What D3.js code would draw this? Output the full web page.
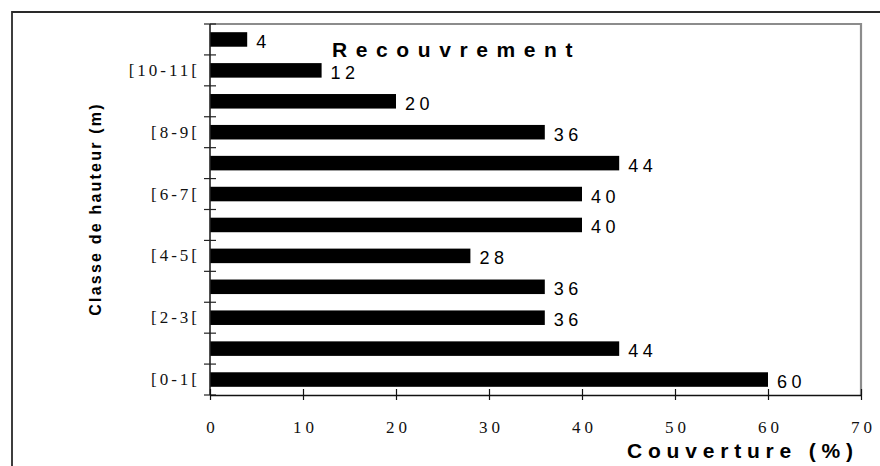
<!DOCTYPE html>
<html>
<head>
<meta charset="utf-8">
<script src="https://cdn.jsdelivr.net/npm/d3@7"></script>
<style>
  html, body { margin: 0; padding: 0; background: #fff; }
  svg { display: block; }
</style>
</head>
<body>
<svg id="chart" width="880" height="466"></svg>
<script>
// Height classes (bottom to top) and canopy cover per class, in %
const categories = ["[0-1[", "[1-2[", "[2-3[", "[3-4[", "[4-5[", "[5-6[",
                    "[6-7[", "[7-8[", "[8-9[", "[9-10[", "[10-11[", "[11-12["];
const values = [60, 44, 36, 36, 28, 40, 40, 44, 36, 20, 12, 4];
const shownLabels = ["[0-1[", "[2-3[", "[4-5[", "[6-7[", "[8-9[", "[10-11["];
const xTicks = [0, 10, 20, 30, 40, 50, 60, 70];

const plot = { left: 210, right: 861, top: 24, bottom: 395 };
const svg = d3.select("#chart");

const x = d3.scaleLinear().domain([0, 70]).range([plot.left, plot.right]);
const y = d3.scaleBand()
  .domain(categories.slice().reverse())
  .range([plot.top, plot.bottom])
  .padding(0);
const bw = y.bandwidth();

// Outer frame (top and left edges)
svg.append("path")
  .attr("d", `M12,466 L12,12 L880,12`)
  .attr("fill", "none")
  .attr("stroke", "#2a2a2a")
  .attr("stroke-width", 1.8);

// Plot box: grey top and right edges
svg.append("path")
  .attr("d", `M${plot.left},${plot.top} L${plot.right},${plot.top} L${plot.right},${plot.bottom}`)
  .attr("fill", "none")
  .attr("stroke", "#8c8c8c")
  .attr("stroke-width", 2.2);

// Bars
svg.append("g").selectAll("rect")
  .data(categories.map((c, i) => ({ c, v: values[i] })))
  .join("rect")
  .attr("x", x(0))
  .attr("y", d => y(d.c) + bw * 0.265)
  .attr("width", d => x(d.v) - x(0))
  .attr("height", bw * 0.47)
  .attr("fill", "#000");

// Value labels
svg.append("g").selectAll("text")
  .data(categories.map((c, i) => ({ c, v: values[i] })))
  .join("text")
  .attr("x", d => x(d.v) + 9)
  .attr("y", d => y(d.c) + bw / 2 + 8.5)
  .attr("font-family", "Liberation Sans, Arial, sans-serif")
  .attr("font-size", 18)
  .attr("letter-spacing", 4.5)
  .attr("fill", "#000")
  .text(d => d.v);

// Left axis line with crossing ticks at class boundaries
svg.append("line")
  .attr("x1", plot.left).attr("x2", plot.left)
  .attr("y1", plot.top).attr("y2", plot.bottom)
  .attr("stroke", "#222").attr("stroke-width", 1.6);
const bounds = categories.map(c => y(c)).concat([plot.bottom]);
svg.append("g").selectAll("line")
  .data(bounds)
  .join("line")
  .attr("x1", plot.left - 6).attr("x2", plot.left + 6)
  .attr("y1", d => d).attr("y2", d => d)
  .attr("stroke", "#222").attr("stroke-width", 1.2);

// Category labels (every other class)
const ylabLS = 3;
svg.append("g").selectAll("text")
  .data(shownLabels)
  .join("text")
  .attr("x", 197 + ylabLS)
  .attr("y", d => y(d) + bw / 2 + 5.5)
  .attr("text-anchor", "end")
  .attr("font-family", "Liberation Serif, Times New Roman, serif")
  .attr("font-size", 17)
  .attr("letter-spacing", ylabLS)
  .attr("fill", "#111")
  .text(d => d);

// Bottom axis with crossing ticks
const xAxis = d3.axisBottom(x).tickValues(xTicks).tickSize(5).tickSizeOuter(0).tickFormat(d3.format("d"));
const gx = svg.append("g")
  .attr("transform", `translate(0,${plot.bottom})`)
  .call(xAxis);
gx.select(".domain").attr("stroke", "#111").attr("stroke-width", 1.4);
gx.selectAll(".tick line").attr("y1", -6).attr("y2", 5).attr("stroke", "#111").attr("stroke-width", 1.2);
const xlabLS = 4;
gx.selectAll(".tick text")
  .attr("y", 38)
  .attr("dy", 0)
  .attr("dx", xlabLS / 2)
  .attr("font-family", "Liberation Serif, Times New Roman, serif")
  .attr("font-size", 17)
  .attr("letter-spacing", xlabLS)
  .attr("fill", "#111");

// Chart title
svg.append("text")
  .attr("x", 332).attr("y", 57)
  .attr("font-family", "Liberation Sans, Arial, sans-serif")
  .attr("font-weight", "bold")
  .attr("font-size", 21)
  .attr("letter-spacing", 8.6)
  .attr("fill", "#000")
  .text("Recouvrement");

// X axis title
svg.append("text")
  .attr("x", 627).attr("y", 458)
  .attr("font-family", "Liberation Sans, Arial, sans-serif")
  .attr("font-weight", "bold")
  .attr("font-size", 21)
  .attr("letter-spacing", 5.8)
  .attr("fill", "#000")
  .text("Couverture (%)");

// Y axis title
svg.append("text")
  .attr("transform", "translate(101,209) rotate(-90)")
  .attr("text-anchor", "middle")
  .attr("font-family", "Liberation Sans, Arial, sans-serif")
  .attr("font-weight", "bold")
  .attr("font-size", 16)
  .attr("letter-spacing", 2.2)
  .attr("fill", "#000")
  .text("Classe de hauteur (m)");
</script>
</body>
</html>
